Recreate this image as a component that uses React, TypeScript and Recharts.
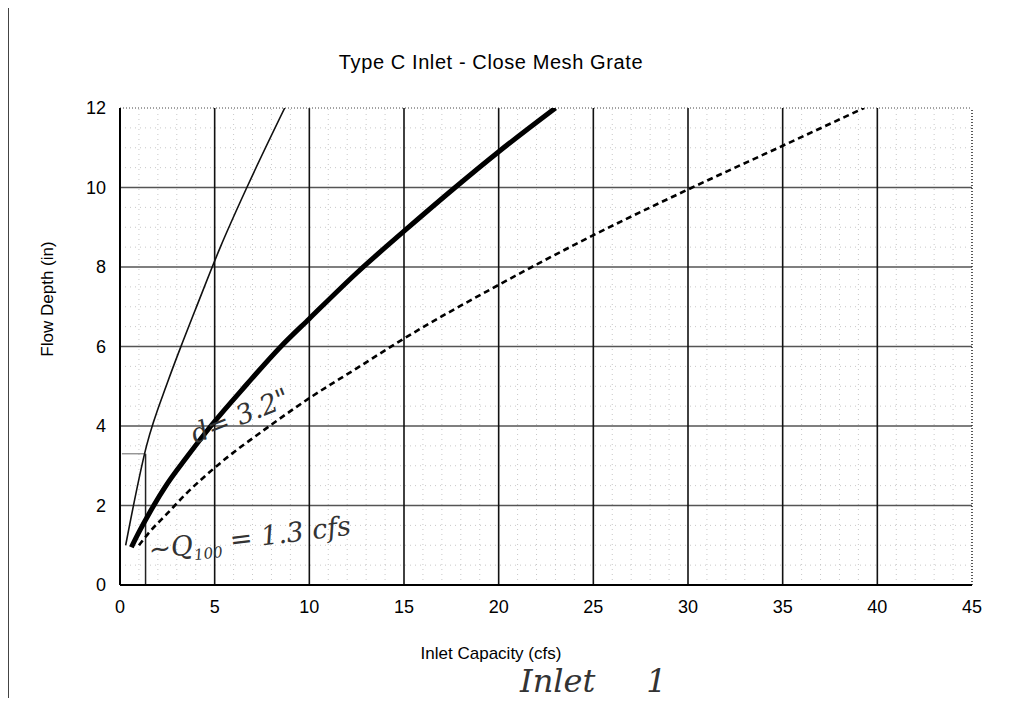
import React from "react";
import { ComposedChart, Line, XAxis, YAxis, ReferenceLine } from "recharts";

// curve readings (Inlet Capacity cfs -> Flow Depth in)
const thinX = [0.3, 1.4, 2.55, 3.3, 4, 5.3, 6.7, 8.7];
const thinY = [1.0, 3.5, 5.15, 6.1, 6.95, 8.5, 10.0, 12.0];

const thickX = [0.6, 1, 1.6, 2.5, 3.5, 4.8, 6.7, 8.5, 10, 12.5, 15, 17.7, 20, 23];
const thickY = [0.95, 1.33, 1.85, 2.55, 3.2, 4.0, 5.05, 6.0, 6.7, 7.85, 8.9, 10.0, 10.9, 12.0];

const dashX = [1.0, 1.5, 2.5, 3.5, 5, 7.9, 10, 12.5, 15, 20, 25, 30, 35, 39.3];
const dashY = [1.0, 1.3, 1.8, 2.3, 2.95, 4.0, 4.7, 5.45, 6.2, 7.55, 8.8, 9.95, 11.05, 12.0];

const xTicks = [0, 5, 10, 15, 20, 25, 30, 35, 40, 45];
const yTicks = [0, 2, 4, 6, 8, 10, 12];

// hand-drawn marker on the scan: Q100 = 1.3 cfs, d = 3.2"
const markQ = 1.35;
const markD = 3.3;

const zip = (xs: number[], ys: number[]) => xs.map((x, i) => ({ x, y: ys[i] }));

const thinData = zip(thinX, thinY);
const thickData = zip(thickX, thickY);
const dashData = zip(dashX, dashY);

const minorX = Array.from({ length: 45 }, (_, i) => i).filter((v) => v % 5 !== 0);
const minorY = Array.from({ length: 24 }, (_, i) => i * 0.5).filter((v) => v % 2 !== 0);

const font = "'Liberation Sans', Arial, sans-serif";
const hand = "'DejaVu Serif', serif";

const App: React.FC = () => {
  return (
    <div style={{ position: "relative", margin: -8, width: 1033, height: 706, background: "#fff", overflow: "hidden" }}>
      {/* page frame from the scan */}
      <div style={{ position: "absolute", left: 0, top: 4, width: 1033, height: 2, background: "#555" }} />
      <div style={{ position: "absolute", left: 8, top: 6, width: 1, height: 700, background: "#444" }} />
      <div style={{ position: "absolute", left: 790, top: 704, width: 243, height: 1, background: "#999" }} />

      <div style={{ position: "absolute", left: 0, top: 0 }}>
        <ComposedChart
          width={1033}
          height={706}
          margin={{ top: 108, right: 61, left: 60, bottom: 91 }}
        >
          <XAxis
            dataKey="x"
            type="number"
            domain={[0, 45]}
            ticks={xTicks}
            allowDataOverflow
            axisLine={{ stroke: "#000", strokeWidth: 2 }}
            tickLine={false}
            tickMargin={9}
            height={30}
            tick={{ fill: "#000", fontSize: 18, fontFamily: font }}
          />
          <YAxis
            dataKey="y"
            type="number"
            domain={[0, 12]}
            ticks={yTicks}
            allowDataOverflow
            axisLine={{ stroke: "#000", strokeWidth: 2 }}
            tickLine={false}
            tickMargin={8}
            width={60}
            tick={{ fill: "#000", fontSize: 18, fontFamily: font }}
          />
          {minorX.map((v) => (
            <ReferenceLine key={"mx" + v} x={v} stroke="#c8c8c8" strokeDasharray="1 4" />
          ))}
          {minorY.map((v) => (
            <ReferenceLine key={"my" + v} y={v} stroke="#c8c8c8" strokeDasharray="1 4" />
          ))}
          {yTicks.filter((v) => v > 0 && v < 12).map((v) => (
            <ReferenceLine key={"gy" + v} y={v} stroke="#555" strokeWidth={1.3} />
          ))}
          {xTicks.filter((v) => v > 0 && v < 45).map((v) => (
            <ReferenceLine key={"gx" + v} x={v} stroke="#111" strokeWidth={1.6} />
          ))}
          <ReferenceLine y={12} stroke="#444" strokeDasharray="1 2" />
          <ReferenceLine x={45} stroke="#222" strokeWidth={1.5} strokeDasharray="1 2" />

          <ReferenceLine
            segment={[{ x: markQ, y: 0 }, { x: markQ, y: markD }]}
            stroke="#222"
            strokeWidth={1.5}
          />
          <ReferenceLine
            segment={[{ x: 0.1, y: markD }, { x: markQ, y: markD }]}
            stroke="#666"
            strokeWidth={1}
          />

          <Line data={thinData} dataKey="y" type="monotone" stroke="#111" strokeWidth={1.6} dot={false} isAnimationActive={false} />
          <Line data={thickData} dataKey="y" type="monotone" stroke="#000" strokeWidth={5} dot={false} isAnimationActive={false} />
          <Line data={dashData} dataKey="y" type="monotone" stroke="#000" strokeWidth={2.6} strokeDasharray="6 4" dot={false} isAnimationActive={false} />
        </ComposedChart>
      </div>

      <div style={{ position: "absolute", left: 0, width: 982, top: 51, textAlign: "center", fontFamily: font, fontSize: 20, letterSpacing: 0.6, color: "#000" }}>
        Type C Inlet - Close Mesh Grate
      </div>
      <div style={{ position: "absolute", left: 0, width: 982, top: 644, textAlign: "center", fontFamily: font, fontSize: 17, color: "#000" }}>
        Inlet Capacity (cfs)
      </div>
      <div
        style={{
          position: "absolute",
          left: 48 - 80,
          top: 300 - 11,
          width: 160,
          textAlign: "center",
          fontFamily: font,
          fontSize: 17,
          color: "#000",
          transform: "rotate(-90deg)",
        }}
      >
        Flow Depth (in)
      </div>

      {/* handwritten notes */}
      <div style={{ position: "absolute", left: 188, top: 400, fontFamily: hand, fontStyle: "italic", fontSize: 27, color: "#333", transform: "rotate(-22deg)" }}>
        d= 3.2"
      </div>
      <div style={{ position: "absolute", left: 148, top: 522, fontFamily: hand, fontStyle: "italic", fontSize: 27, color: "#333", transform: "rotate(-7deg)" }}>
        ~Q<sub style={{ fontSize: 15 }}>100</sub> = 1.3 cfs
      </div>
      <div style={{ position: "absolute", left: 520, top: 662, fontFamily: hand, fontStyle: "italic", fontSize: 32, color: "#333" }}>
        Inlet&nbsp;&nbsp;&nbsp;&nbsp;&nbsp;1
      </div>
    </div>
  );
};

export default App;
